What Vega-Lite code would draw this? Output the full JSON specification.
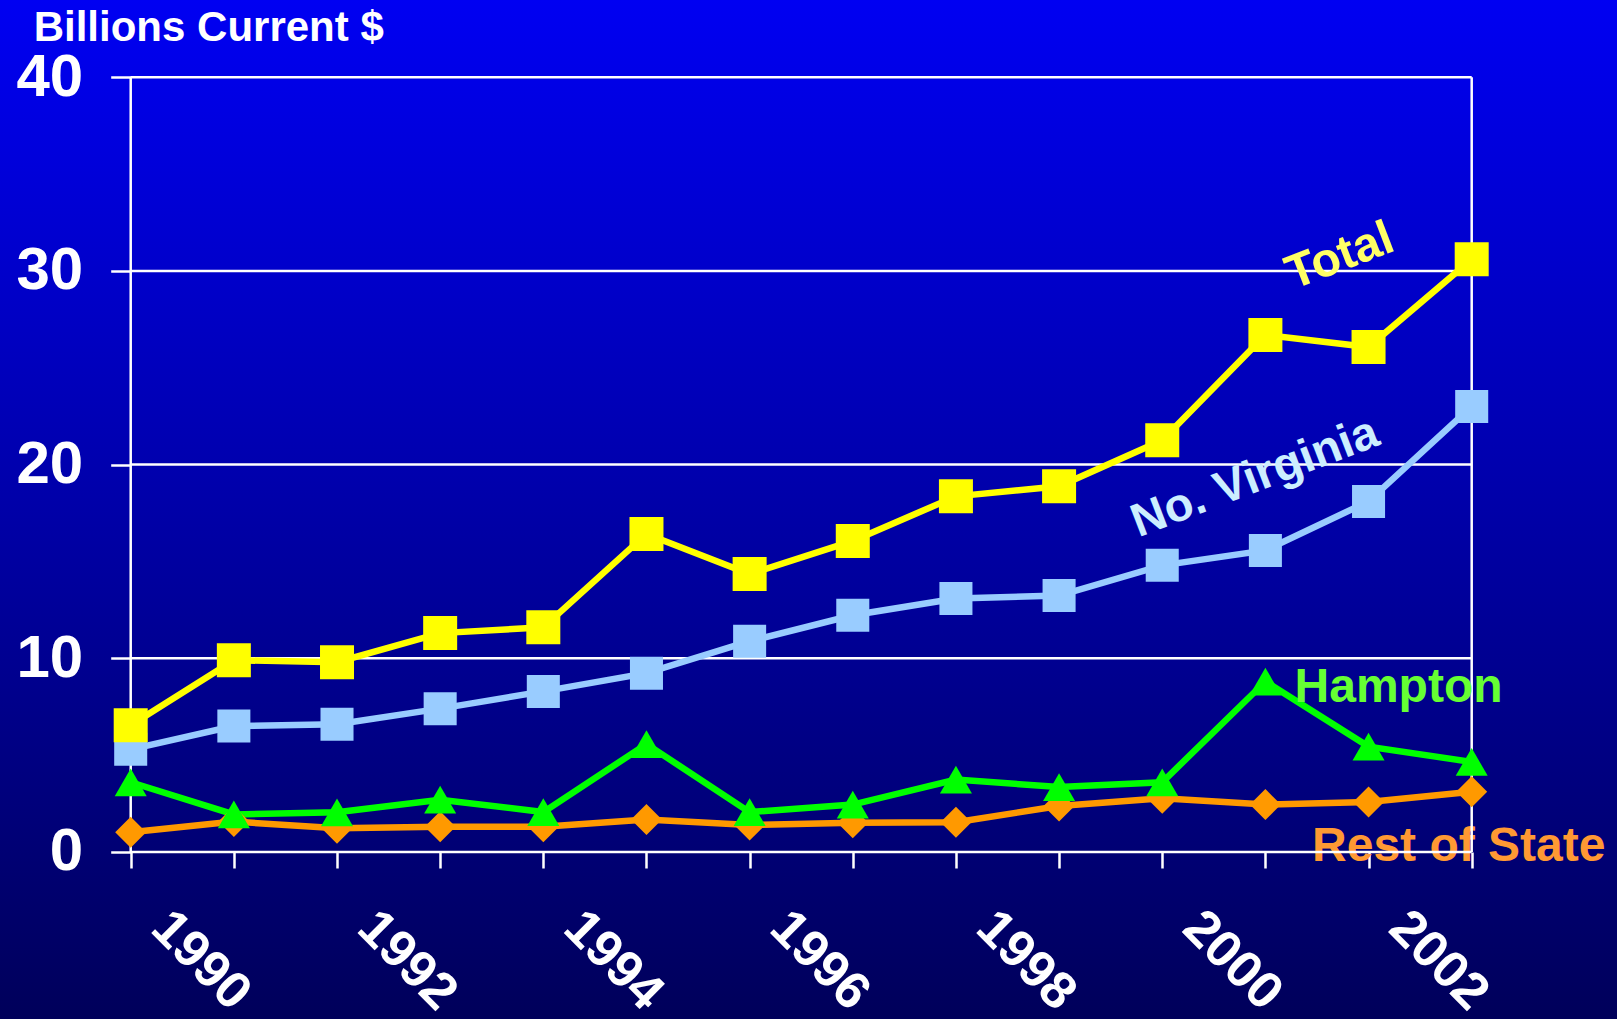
{
  "$schema": "https://vega.github.io/schema/vega-lite/v6.json",
  "width": 1617,
  "height": 1019,
  "autosize": {"type": "none"},
  "padding": 0,
  "background": "#0000A0",
  "view": {
    "stroke": null,
    "fill": {
      "gradient": "linear",
      "x1": 0, "y1": 0, "x2": 0, "y2": 1,
      "stops": [
        {"offset": 0, "color": "#0000F2"},
        {"offset": 0.5, "color": "#0000A8"},
        {"offset": 1, "color": "#00005A"}
      ]
    }
  },
  "config": {"font": "Liberation Sans"},
  "data": {
    "values": [
      {"series": "Rest of State", "year": 1990, "value": 1.02},
      {"series": "Rest of State", "year": 1991, "value": 1.57},
      {"series": "Rest of State", "year": 1992, "value": 1.22},
      {"series": "Rest of State", "year": 1993, "value": 1.3},
      {"series": "Rest of State", "year": 1994, "value": 1.3},
      {"series": "Rest of State", "year": 1995, "value": 1.68},
      {"series": "Rest of State", "year": 1996, "value": 1.39},
      {"series": "Rest of State", "year": 1997, "value": 1.51},
      {"series": "Rest of State", "year": 1998, "value": 1.54},
      {"series": "Rest of State", "year": 1999, "value": 2.37},
      {"series": "Rest of State", "year": 2000, "value": 2.77},
      {"series": "Rest of State", "year": 2001, "value": 2.45},
      {"series": "Rest of State", "year": 2002, "value": 2.58},
      {"series": "Rest of State", "year": 2003, "value": 3.11},
      {"series": "Hampton", "year": 1990, "value": 3.6},
      {"series": "Hampton", "year": 1991, "value": 1.94},
      {"series": "Hampton", "year": 1992, "value": 2.05},
      {"series": "Hampton", "year": 1993, "value": 2.7},
      {"series": "Hampton", "year": 1994, "value": 2.06},
      {"series": "Hampton", "year": 1995, "value": 5.57},
      {"series": "Hampton", "year": 1996, "value": 2.06},
      {"series": "Hampton", "year": 1997, "value": 2.45},
      {"series": "Hampton", "year": 1998, "value": 3.74},
      {"series": "Hampton", "year": 1999, "value": 3.35},
      {"series": "Hampton", "year": 2000, "value": 3.6},
      {"series": "Hampton", "year": 2001, "value": 8.8},
      {"series": "Hampton", "year": 2002, "value": 5.44},
      {"series": "Hampton", "year": 2003, "value": 4.65},
      {"series": "No. Virginia", "year": 1990, "value": 5.3},
      {"series": "No. Virginia", "year": 1991, "value": 6.5},
      {"series": "No. Virginia", "year": 1992, "value": 6.6},
      {"series": "No. Virginia", "year": 1993, "value": 7.4},
      {"series": "No. Virginia", "year": 1994, "value": 8.29},
      {"series": "No. Virginia", "year": 1995, "value": 9.23},
      {"series": "No. Virginia", "year": 1996, "value": 10.88},
      {"series": "No. Virginia", "year": 1997, "value": 12.22},
      {"series": "No. Virginia", "year": 1998, "value": 13.09},
      {"series": "No. Virginia", "year": 1999, "value": 13.24},
      {"series": "No. Virginia", "year": 2000, "value": 14.8},
      {"series": "No. Virginia", "year": 2001, "value": 15.57},
      {"series": "No. Virginia", "year": 2002, "value": 18.1},
      {"series": "No. Virginia", "year": 2003, "value": 23.0},
      {"series": "Total", "year": 1990, "value": 6.54},
      {"series": "Total", "year": 1991, "value": 9.9},
      {"series": "Total", "year": 1992, "value": 9.8},
      {"series": "Total", "year": 1993, "value": 11.3},
      {"series": "Total", "year": 1994, "value": 11.6},
      {"series": "Total", "year": 1995, "value": 16.42},
      {"series": "Total", "year": 1996, "value": 14.35},
      {"series": "Total", "year": 1997, "value": 16.06},
      {"series": "Total", "year": 1998, "value": 18.36},
      {"series": "Total", "year": 1999, "value": 18.88},
      {"series": "Total", "year": 2000, "value": 21.26},
      {"series": "Total", "year": 2001, "value": 26.69},
      {"series": "Total", "year": 2002, "value": 26.07},
      {"series": "Total", "year": 2003, "value": 30.6}
    ]
  },
  "layer": [
    {
      "data": {"values": [{"label": "Rest of State"}]},
      "mark": {"type": "text", "align": "left", "baseline": "alphabetic", "fontSize": 48, "fontWeight": "bold", "color": "#FF9933", "font": "Liberation Sans"},
      "encoding": {
        "x": {"datum": 2001.452, "type": "quantitative", "scale": {"domain": [1988.7329, 2004.4086], "nice": false, "zero": false}},
        "y": {"datum": -0.46, "type": "quantitative", "scale": {"domain": [-8.622, 43.985], "nice": false, "zero": false}},
        "text": {"field": "label"}
      }
    },
    {
      "data": {"values": [{"value": 0}, {"value": 10}, {"value": 20}, {"value": 30}, {"value": 40}]},
      "mark": {"type": "rule", "color": "white", "strokeWidth": 2.5},
      "encoding": {
        "y": {"field": "value", "type": "quantitative", "scale": {"domain": [-8.622, 43.985], "nice": false, "zero": false}},
        "x": {"datum": 1990, "type": "quantitative", "scale": {"domain": [1988.7329, 2004.4086], "nice": false, "zero": false}},
        "x2": {"datum": 2003}
      }
    },
    {
      "data": {"values": [{"year": 1990}, {"year": 2003}]},
      "mark": {"type": "rule", "color": "white", "strokeWidth": 2.5},
      "encoding": {
        "x": {"field": "year", "type": "quantitative", "scale": {"domain": [1988.7329, 2004.4086], "nice": false, "zero": false}},
        "y": {"datum": 0, "type": "quantitative", "scale": {"domain": [-8.622, 43.985], "nice": false, "zero": false}},
        "y2": {"datum": 40}
      }
    },
    {
      "mark": {"type": "line", "strokeWidth": 6.5},
      "encoding": {
        "x": {
          "field": "year", "type": "quantitative",
          "scale": {"domain": [1988.7329, 2004.4086], "nice": false, "zero": false},
          "axis": {
            "orient": "bottom", "offset": -167, "title": null,
            "values": [1990, 1991, 1992, 1993, 1994, 1995, 1996, 1997, 1998, 1999, 2000, 2001, 2002, 2003],
            "format": "d",
            "labelExpr": "datum.value % 2 === 0 ? datum.label : ''",
            "domain": false, "grid": false,
            "ticks": true, "tickSize": 16, "tickWidth": 2.5, "tickColor": "white",
            "labelAngle": 45, "labelAlign": "left", "labelBaseline": "middle",
            "labelFont": "Liberation Sans", "labelFontSize": 52, "labelFontWeight": "bold", "labelColor": "white",
            "labelPadding": 51, "labelOffset": 29,
            "labelOverlap": false, "labelBound": false, "labelFlush": false
          }
        },
        "y": {
          "field": "value", "type": "quantitative",
          "scale": {"domain": [-8.622, 43.985], "nice": false, "zero": false},
          "axis": {
            "orient": "left", "offset": -130.7,
            "values": [0, 10, 20, 30, 40],
            "domain": false, "grid": false,
            "ticks": true, "tickSize": 20, "tickWidth": 2.5, "tickColor": "white",
            "labelFont": "Liberation Sans", "labelFontSize": 60, "labelFontWeight": "bold", "labelColor": "white",
            "labelPadding": 28, "labelOverlap": false, "labelBound": false, "labelFlush": false,
            "title": "Billions Current $",
            "titleAngle": 0, "titleX": -97.5, "titleY": 40,
            "titleAlign": "left", "titleBaseline": "alphabetic",
            "titleFont": "Liberation Sans", "titleFontSize": 42, "titleFontWeight": "bold", "titleColor": "white"
          }
        },
        "color": {
          "field": "series", "type": "nominal",
          "scale": {"domain": ["Total", "No. Virginia", "Hampton", "Rest of State"], "range": ["#FFFF00", "#99CCFF", "#00FF00", "#FF9900"]},
          "legend": null
        }
      }
    },
    {
      "mark": {"type": "point", "filled": true, "opacity": 1, "strokeWidth": 0},
      "encoding": {
        "x": {"field": "year", "type": "quantitative", "scale": {"domain": [1988.7329, 2004.4086], "nice": false, "zero": false}},
        "y": {"field": "value", "type": "quantitative", "scale": {"domain": [-8.622, 43.985], "nice": false, "zero": false}},
        "color": {
          "field": "series", "type": "nominal",
          "scale": {"domain": ["Total", "No. Virginia", "Hampton", "Rest of State"], "range": ["#FFFF00", "#99CCFF", "#00FF00", "#FF9900"]},
          "legend": null
        },
        "shape": {
          "field": "series", "type": "nominal",
          "scale": {"domain": ["Total", "No. Virginia", "Hampton", "Rest of State"], "range": ["square", "square", "triangle-up", "diamond"]},
          "legend": null
        },
        "size": {
          "field": "series", "type": "nominal",
          "scale": {"domain": ["Total", "No. Virginia", "Hampton", "Rest of State"], "range": [1156, 961, 1400, 1150]},
          "legend": null
        }
      }
    },
    {
      "data": {"values": [{"label": "Total"}]},
      "mark": {"type": "text", "align": "center", "baseline": "alphabetic", "angle": -21, "fontSize": 48, "fontWeight": "bold", "color": "#FFFF66", "font": "Liberation Sans"},
      "encoding": {
        "x": {"datum": 2001.772, "type": "quantitative"},
        "y": {"datum": 30.05, "type": "quantitative"},
        "text": {"field": "label"}
      }
    },
    {
      "data": {"values": [{"label": "No. Virginia"}]},
      "mark": {"type": "text", "align": "center", "baseline": "alphabetic", "angle": -21, "fontSize": 47, "fontWeight": "bold", "color": "#CCEEFF", "font": "Liberation Sans"},
      "encoding": {
        "x": {"datum": 2000.948, "type": "quantitative"},
        "y": {"datum": 18.65, "type": "quantitative"},
        "text": {"field": "label"}
      }
    },
    {
      "data": {"values": [{"label": "Hampton"}]},
      "mark": {"type": "text", "align": "left", "baseline": "alphabetic", "fontSize": 48, "fontWeight": "bold", "color": "#66FF33", "font": "Liberation Sans"},
      "encoding": {
        "x": {"datum": 2001.283, "type": "quantitative"},
        "y": {"datum": 7.76, "type": "quantitative"},
        "text": {"field": "label"}
      }
    }
  ]
}
